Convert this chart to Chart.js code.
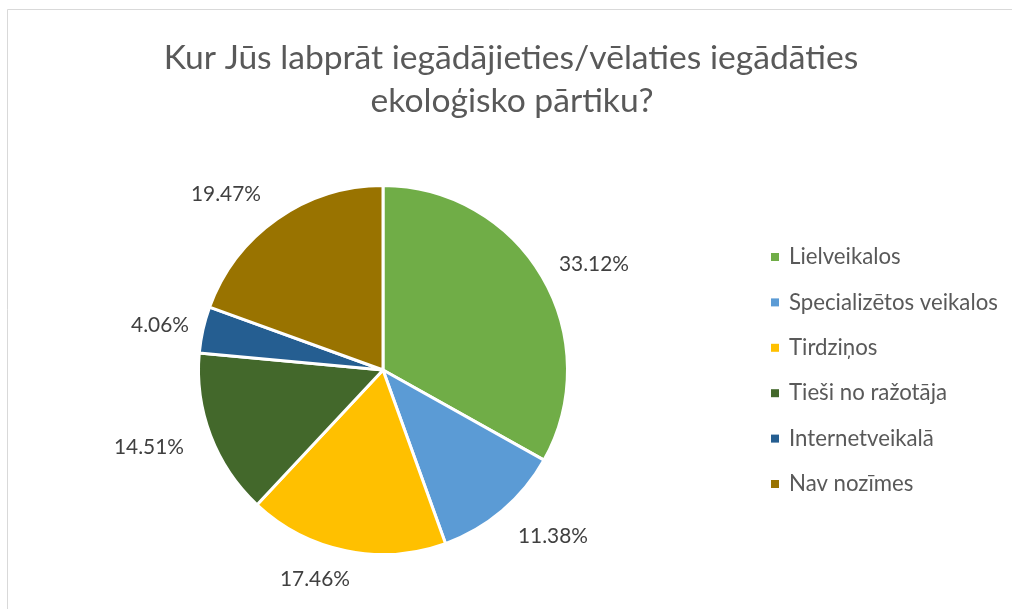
<!DOCTYPE html>
<html>
<head>
<meta charset="utf-8">
<script src="https://cdn.jsdelivr.net/npm/chart.js@4"></script>
<style>
html,body{margin:0;padding:0;background:#fff;}
#wrap{width:1012px;height:609px;position:relative;}
</style>
</head>
<body>
<div id="wrap"><canvas id="c" width="1012" height="609"></canvas></div>
<script>
const titleLines = ["Kur Jūs labprāt iegādājieties/vēlaties iegādāties", "ekoloģisko pārtiku?"];
const categories = ["Lielveikalos", "Specializētos veikalos", "Tirdziņos", "Tieši no ražotāja", "Internetveikalā", "Nav nozīmes"];
const values = [33.12, 11.38, 17.46, 14.51, 4.06, 19.47];
const colors = ["#70AD47", "#5B9BD5", "#FFC000", "#43682B", "#255E91", "#997300"];
const labelPositions = [[594,264],[553,536],[315,579],[149,447],[160,325],[226,194]];

const FONT = "Lato, 'Open Sans', sans-serif";
const TEXT = "#595959";

function fitFont(ctx, text, target, base){
  ctx.font = base + "px " + FONT;
  const w = ctx.measureText(text).width;
  return base * target / w;
}

const decor = {
  id: 'decor',
  beforeDraw(chart){
    const ctx = chart.ctx;
    ctx.save();
    ctx.fillStyle = '#fff';
    ctx.fillRect(0,0,chart.width,chart.height);
    ctx.strokeStyle = '#D9D9D9';
    ctx.lineWidth = 1;
    ctx.beginPath();
    ctx.moveTo(7.5, 609); ctx.lineTo(7.5, 9.5); ctx.lineTo(1012, 9.5);
    ctx.stroke();
    ctx.restore();
  },
  afterDraw(chart){
    const ctx = chart.ctx;
    ctx.save();
    ctx.fillStyle = TEXT;
    ctx.textAlign = 'center';
    ctx.textBaseline = 'middle';
    const ts = fitFont(ctx, titleLines[0], 695, 30);
    ctx.font = ts + "px " + FONT;
    ctx.fillText(titleLines[0], 511, 58);
    ctx.fillText(titleLines[1], 512, 101);
    const ls = fitFont(ctx, "33.12%", 70, 20);
    ctx.font = ls + "px " + FONT;
    ctx.fillStyle = '#404040';
    chart.data.datasets[0].data.forEach((v,i)=>{
      const p = labelPositions[i];
      ctx.fillText(v.toFixed(2) + "%", p[0], p[1]);
    });
    const gs = fitFont(ctx, categories[1], 209, 19);
    ctx.font = gs + "px " + FONT;
    ctx.textAlign = 'left';
    chart.data.labels.forEach((lab,i)=>{
      const y = 257 + i*45.4;
      ctx.fillStyle = colors[i];
      ctx.fillRect(771, y-4, 8, 8);
      ctx.fillStyle = TEXT;
      ctx.fillText(lab, 789, y);
    });
    ctx.restore();
  }
};

new Chart(document.getElementById('c'), {
  type: 'pie',
  data: {
    labels: categories,
    datasets: [{
      data: values,
      backgroundColor: colors,
      borderColor: '#ffffff',
      borderWidth: 3
    }]
  },
  options: {
    responsive: false,
    animation: false,
    layout: { padding: { top: 184, bottom: 53, left: 197, right: 443 } },
    plugins: { legend: { display: false }, tooltip: { enabled: false } }
  },
  plugins: [decor]
});
</script>
</body>
</html>
